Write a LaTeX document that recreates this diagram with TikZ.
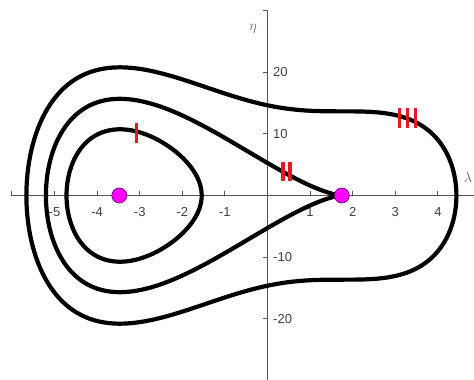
\documentclass[tikz,border=0pt]{standalone}
\usepackage{fontspec}
\setmainfont{Liberation Sans}
\pgfmathdeclarefunction{PP}{1}{\pgfmathparse{(#1)*(#1)*((#1)*(#1)-18.375)+42.875*(#1)}}
\pgfmathdeclarefunction{DP}{1}{\pgfmathparse{4*(#1)*(#1)*(#1)-36.75*(#1)+42.875}}
\newcommand\nwtstep[2]{\pgfmathsetmacro#1{#1-(PP(#1)-(#2))/DP(#1)}}
\newcommand\orbitpath[4]{%
  \draw[orbit] plot[variable=\t, domain=0:360, samples=361]
   ({268+42.3*((#1)-(#2)*cos(\t))},
    {195.5-6.075*(#2)*sin(\t)*sqrt(((#1)-(#2)*cos(\t))*((#1)-(#2)*cos(\t))+(#3)*((#1)-(#2)*cos(\t))+(#4))}) -- cycle;}
\definecolor{axisgray}{RGB}{85,85,85}
\definecolor{labelgray}{RGB}{64,64,64}
\definecolor{axlabgray}{RGB}{100,100,100}
\definecolor{markred}{RGB}{228,24,32}
\definecolor{dotfill}{RGB}{255,0,255}
\definecolor{dotedge}{RGB}{110,0,110}
\tikzset{
  axisline/.style={draw=axisgray, line width=0.9pt},
  tickline/.style={draw=axisgray, line width=0.9pt},
  ticklabel/.style={text=labelgray, font=\fontsize{13}{15}\selectfont, inner sep=0pt},
  orbit/.style={line width=4.2pt, line join=round, line cap=round},
  redmark/.style={draw=markred, line width=3.3pt},
  fixpt/.style={circle, fill=dotfill, draw=dotedge, line width=0.7pt, minimum size=15pt, inner sep=0pt},
  axislabel/.style={text=axlabgray, font=\fontsize{15}{17}\selectfont, inner sep=0pt}
}
\begin{document}
\begin{tikzpicture}[x=1pt,y=-1pt]
\useasboundingbox (0,0) rectangle (474,380);
% roots of the level sets
\def\EI{-106.35}\def\aI{-4.76}\def\bI{-1.57}
\nwtstep\aI\EI\nwtstep\aI\EI\nwtstep\aI\EI\nwtstep\aI\EI\nwtstep\aI\EI
\nwtstep\bI\EI\nwtstep\bI\EI\nwtstep\bI\EI\nwtstep\bI\EI\nwtstep\bI\EI
\pgfmathsetmacro\mI{(\aI+\bI)/2}
\pgfmathsetmacro\hI{(\bI-\aI)/2}
\pgfmathsetmacro\sI{\aI+\bI}
\pgfmathsetmacro\qI{-18.375+(\sI)*(\sI)-(\aI)*(\bI)}
\def\EIII{220}\def\aIII{-5.71}\def\bIII{4.45}
\nwtstep\aIII\EIII\nwtstep\aIII\EIII\nwtstep\aIII\EIII\nwtstep\aIII\EIII\nwtstep\aIII\EIII
\nwtstep\bIII\EIII\nwtstep\bIII\EIII\nwtstep\bIII\EIII\nwtstep\bIII\EIII\nwtstep\bIII\EIII
\pgfmathsetmacro\mIII{(\aIII+\bIII)/2}
\pgfmathsetmacro\hIII{(\bIII-\aIII)/2}
\pgfmathsetmacro\sIII{\aIII+\bIII}
\pgfmathsetmacro\qIII{-18.375+(\sIII)*(\sIII)-(\aIII)*(\bIII)}
% axes
\coordinate (xl) at (11.9,195.5);
\coordinate (xr) at (474,195.5);
\coordinate (yt) at (267.5,10.5);
\coordinate (yb) at (267.5,380);
\draw[axisline] (xl) -- (xr);
\draw[axisline] (yt) -- (yb);
\foreach \v in {-6,-5,-4,-3,-2,-1,1,2,3,4}
  \draw[tickline] ({267.5+42.6*\v},195.5) -- ++(0,-4.5);
\foreach \v [count=\i] in {-5,-4,-3,-2,-1,1,2,3,4}
  \node[ticklabel] (xt\i) at ({267.5+42.6*\v},212) {\v};
\foreach \v in {-20,-10,10,20,30}
  \draw[tickline] (267.5,{195.5-6.165*\v}) -- ++(-5,0);
\foreach \v [count=\i] in {-20,-10,10,20}
  \node[ticklabel, anchor=west] (yt\i) at (273,{195.5-6.165*\v}) {\v};
\node[axislabel] (lamlab) at (468,177) {$\lambda$};
\node[axislabel] (etalab) at (253,29) {$\eta$};
% orbits
\orbitpath{\mI}{\hI}{\sI}{\qI}
\orbitpath{\mIII}{\hIII}{\sIII}{\qIII}
\draw[orbit] plot[variable=\t, domain=0:360, samples=361]
  ({268+42.3*(-1.75+3.5*cos(\t))}, {195.5-6.075*12.25*(1-cos(\t))*sin(\t)});
% red marks
\draw[redmark] (136.7,123) -- (136.7,143);
\draw[redmark] (283,162) -- (283,181);
\draw[redmark] (290,162) -- (290,181);
\draw[redmark] (399.3,108.3) -- (399.3,128.3);
\draw[redmark] (407.5,108.3) -- (407.5,128.3);
\draw[redmark] (415.7,108.3) -- (415.7,128.3);
% fixed points
\node[fixpt] (minpt) at (119.3,195.5) {};
\node[fixpt] (saddle) at (341.8,195.5) {};
\end{tikzpicture}
\end{document}
